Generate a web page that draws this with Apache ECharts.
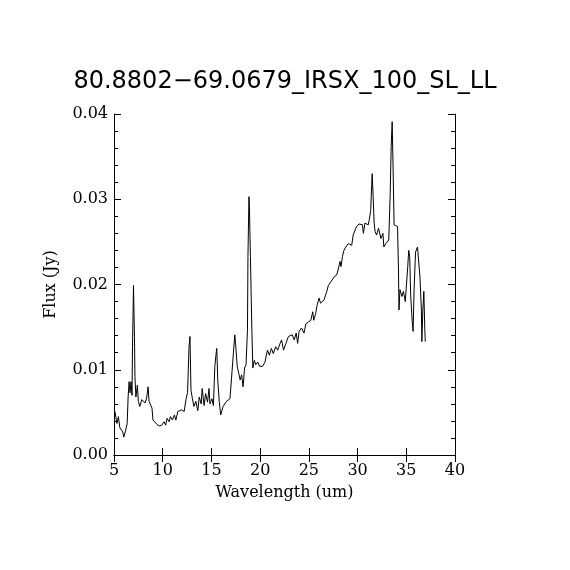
<!DOCTYPE html>
<html>
<head>
<meta charset="utf-8">
<script src="https://cdn.jsdelivr.net/npm/echarts@6/dist/echarts.min.js"></script>
<style>html,body{margin:0;padding:0;background:#fff}#c{width:570px;height:570px}</style>
</head>
<body>
<div id="c"></div>
<script>
var titleText = "80.8802\u221269.0679_IRSX_100_SL_LL";
var xName = "Wavelength (um)";
var yName = "Flux (Jy)";
var xTicks = [5, 10, 15, 20, 25, 30, 35, 40];
var yTicks = [0, 0.01, 0.02, 0.03, 0.04];

var wavelength = [
 5.1,5.3,5.45,5.6,5.9,6.0,6.2,6.35,6.45,6.55,6.65,6.75,6.85,6.9,7.0,7.1,7.15,7.25,7.4,7.5,
 7.65,7.85,8.0,8.2,8.35,8.5,8.6,8.75,8.9,9.0,9.2,9.4,9.65,9.9,10.05,10.15,10.3,10.45,10.65,10.8,
 11.0,11.2,11.35,11.55,11.75,11.95,12.2,12.4,12.55,12.7,12.8,12.9,13.05,13.2,13.4,13.6,13.75,13.95,14.05,14.25,
 14.4,14.6,14.75,14.85,15.05,15.2,15.35,15.5,15.55,15.65,15.8,15.95,16.2,16.55,16.7,16.9,17.05,17.25,17.4,17.5,
 17.65,17.8,17.95,18.1,18.25,18.4,18.55,18.7,18.75,18.85,18.9,19.0,19.15,19.25,19.4,19.55,19.75,19.95,20.25,20.5,
 20.75,20.95,21.15,21.35,21.6,21.8,22.05,22.2,22.4,22.65,22.9,23.05,23.3,23.5,23.7,23.85,24.0,24.25,24.5,24.7,
 24.95,25.2,25.4,25.5,25.7,25.85,26.05,26.2,26.4,26.55,26.85,27.0,27.25,27.45,27.6,27.85,28.0,28.2,28.3,28.45,
 28.6,28.8,29.05,29.2,29.4,29.55,29.75,29.9,30.15,30.35,30.5,30.6,30.75,30.95,31.1,31.2,31.35,31.45,31.5,31.6,
 31.7,31.8,31.95,32.15,32.3,32.4,32.6,32.7,32.9,33.05,33.2,33.35,33.45,33.55,33.65,33.75,33.95,34.1,34.2,34.25,
 34.35,34.55,34.7,34.9,35.0,35.15,35.25,35.35,35.45,35.6,35.7,35.8,35.95,36.15,36.3,36.4,36.55,36.6,36.7,36.8,
 36.9,36.95
];
var flux = [
 0.0051,0.0037,0.0045,0.0032,0.0027,0.0021,0.0029,0.0037,0.0068,0.0086,0.0073,0.0086,0.0070,0.0127,0.0199,0.0139,0.0092,0.0068,0.0082,0.0063,
 0.0057,0.0065,0.0067,0.0061,0.0067,0.0080,0.0063,0.0063,0.0055,0.0041,0.0039,0.0036,0.0034,0.0035,0.0033,0.0039,0.0035,0.0043,0.0039,0.0045,
 0.0041,0.0047,0.0041,0.0051,0.0049,0.0053,0.0051,0.0066,0.0073,0.0127,0.0139,0.0076,0.0066,0.0057,0.0063,0.0052,0.0068,0.0060,0.0078,0.0058,
 0.0072,0.0062,0.0078,0.0060,0.0066,0.0058,0.0104,0.0121,0.0125,0.0088,0.0063,0.0047,0.0057,0.0063,0.0061,0.0066,0.0088,0.0119,0.0141,0.0127,
 0.0104,0.0096,0.0088,0.0094,0.0080,0.0102,0.0106,0.0147,0.0233,0.0303,0.0291,0.0233,0.0147,0.0102,0.0111,0.0106,0.0109,0.0104,0.0104,0.0109,
 0.0123,0.0117,0.0125,0.0119,0.0127,0.0123,0.0131,0.0135,0.0123,0.0131,0.0139,0.0137,0.0141,0.0135,0.0143,0.0131,0.0145,0.0149,0.0143,0.0154,
 0.0156,0.0158,0.0168,0.0158,0.0166,0.0176,0.0184,0.0178,0.0180,0.0182,0.0192,0.0199,0.0203,0.0205,0.0209,0.0211,0.0217,0.0227,0.0221,0.0233,
 0.0240,0.0244,0.0248,0.0250,0.0246,0.0258,0.0264,0.0268,0.0271,0.0272,0.0270,0.0260,0.0272,0.0274,0.0270,0.0276,0.0287,0.0317,0.0330,0.0303,
 0.0272,0.0262,0.0258,0.0266,0.0264,0.0254,0.0260,0.0244,0.0248,0.0246,0.0252,0.0307,0.0362,0.0391,0.0334,0.0270,0.0270,0.0268,0.0217,0.0170,
 0.0194,0.0186,0.0192,0.0180,0.0197,0.0221,0.0240,0.0233,0.0188,0.0158,0.0145,0.0194,0.0238,0.0244,0.0245,0.0209,0.0170,0.0133,0.0170,0.0192,
 0.0147,0.0133
];

var pts = wavelength.map(function (w, i) { return [w, flux[i]]; });
var serif = "DejaVu Serif";
var axisCommon = {
  type: 'value',
  axisLine: { show: true, lineStyle: { color: '#000', width: 1 } },
  splitLine: { show: false },
  axisTick: { show: true, inside: true, length: 7, lineStyle: { color: '#000' } }
};
var chart = echarts.init(document.getElementById('c'), null, { renderer: 'canvas' });
chart.setOption({
  animation: false,
  backgroundColor: '#fff',
  title: {
    text: titleText, left: 'center', top: 65,
    textStyle: { fontFamily: 'DejaVu Sans', fontSize: 24, fontWeight: 'normal', color: '#000' }
  },
  grid: { left: 114, right: 115, top: 114, bottom: 115 },
  xAxis: [
    Object.assign({}, axisCommon, {
      position: 'bottom', min: xTicks[0], max: xTicks[xTicks.length - 1], interval: 5,
      name: xName, nameLocation: 'middle', nameGap: 30,
      nameTextStyle: { fontFamily: serif, fontSize: 16, color: '#000' },
      axisLabel: { color: '#000', fontFamily: serif, fontSize: 16, margin: 8 }
    }),
    Object.assign({}, axisCommon, {
      position: 'top', min: xTicks[0], max: xTicks[xTicks.length - 1], interval: 5,
      axisLabel: { show: false }
    })
  ],
  yAxis: [
    Object.assign({}, axisCommon, {
      position: 'left', min: yTicks[0], max: yTicks[yTicks.length - 1], interval: 0.01,
      name: yName, nameLocation: 'middle', nameGap: 55,
      nameTextStyle: { fontFamily: serif, fontSize: 16, color: '#000' },
      minorTick: { show: true, splitNumber: 5, length: 4, lineStyle: { color: '#000' } },
      axisLabel: { color: '#000', fontFamily: serif, fontSize: 16, margin: 6,
        formatter: function (v) { return v.toFixed(2); } }
    }),
    Object.assign({}, axisCommon, {
      position: 'right', min: yTicks[0], max: yTicks[yTicks.length - 1], interval: 0.01,
      minorTick: { show: true, splitNumber: 5, length: 4, lineStyle: { color: '#000' } },
      axisLabel: { show: false }
    })
  ],
  series: [{
    type: 'line', data: pts, xAxisIndex: 0, yAxisIndex: 0,
    showSymbol: false, symbol: 'none',
    lineStyle: { color: '#000', width: 1 }
  }]
});
</script>
</body>
</html>
